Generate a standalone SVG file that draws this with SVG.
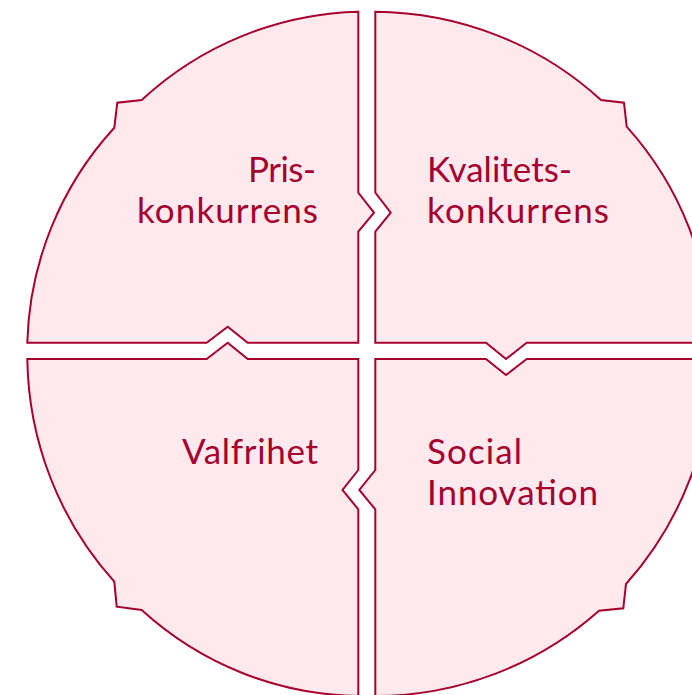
<svg xmlns="http://www.w3.org/2000/svg" width="692" height="695" viewBox="0 0 692 695">
<style>
.q{fill:#fde9ee;stroke:#a6002f;stroke-width:2;stroke-linejoin:miter}
.t{font-family:Lato,"Open Sans","Liberation Sans",sans-serif;font-size:35px;fill:#a6002f}
.r{text-anchor:end}
</style>
<rect width="692" height="695" fill="#ffffff"/>
<g id="pris">
<path class="q" d="M358.3,11.7 L358.3,192.7 L374,212.7 L358.3,231.7 L358.3,342.7 L247.7,342.7 L227.7,326.7 L206.7,342.7 L27.3,342.7 A331,331 0 0 1 114.3,127.7 L117.3,102.7 L141.7,100 A331,331 0 0 1 358.3,11.7 Z"/>
<text class="t r" x="316" y="182" textLength="68" lengthAdjust="spacing">Pris-</text>
<text class="t r" x="318" y="223" textLength="181" lengthAdjust="spacing">konkurrens</text>
</g>
<g id="kvalitet">
<path class="q" d="M375.3,11.7 A336,331 0 0 1 601,100 L624,102.7 L626.7,126.7 A336,331 0 0 1 711.3,342.7 L526.7,342.7 L506,359 L486,342.7 L375.3,342.7 L375.3,231.7 L390.7,212.7 L375.3,192.7 Z"/>
<text class="t" x="427" y="182" textLength="145" lengthAdjust="spacing">Kvalitets-</text>
<text class="t" x="427" y="223" textLength="182" lengthAdjust="spacing">konkurrens</text>
</g>
<g id="valfrihet">
<path class="q" d="M358.3,359 L358.3,470 L342.5,490 L358.3,509.3 L358.3,696 A331,337 0 0 1 141.7,610 L116.7,606.7 L114.3,581.7 A331,337 0 0 1 27.3,359 L206.7,359 L227.7,342.7 L247.7,359 Z"/>
<text class="t r" x="318" y="464" textLength="136" lengthAdjust="spacing">Valfrihet</text>
</g>
<g id="social">
<path class="q" d="M375.3,359 L486,359 L506,375 L526.7,359 L712,359 A337,337 0 0 1 626,584 L623.3,608.3 L599,610.7 A337,337 0 0 1 375.3,696 L375.3,509.3 L359.3,490 L375.3,470 Z"/>
<text class="t" x="427" y="464" textLength="95" lengthAdjust="spacing">Social</text>
<text class="t" x="427" y="505" textLength="171" lengthAdjust="spacing">Innovation</text>
</g>
<g id="connectors"></g>
</svg>
